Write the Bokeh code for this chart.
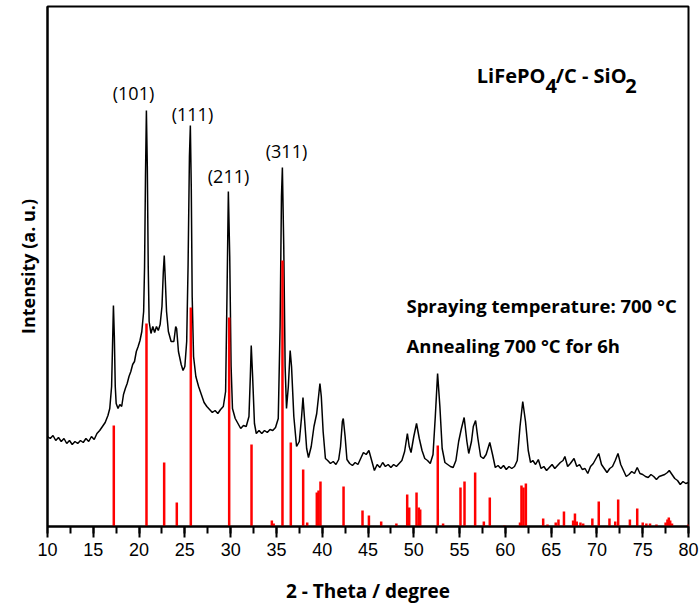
from bokeh.plotting import figure
from bokeh.models import Range1d, SingleIntervalTicker, FixedTicker
from bokeh.core.properties import value
from bokeh.embed import file_html
from bokeh.resources import INLINE

# measured XRD pattern (2-theta, intensity a.u.)
theta = [10.0, 10.3, 10.6, 10.9, 11.2, 11.5, 11.8, 12.1, 12.4, 12.7, 13.0, 13.3, 13.6, 13.9,
         14.2, 14.5, 14.8, 15.1, 15.4, 15.7, 16.0, 16.3, 16.6, 16.8, 17.0, 17.1, 17.2, 17.3,
         17.4, 17.5, 17.7, 17.9, 18.1, 18.3, 18.5, 18.7, 18.9, 19.1, 19.3, 19.5, 19.7, 19.9,
         20.1, 20.3, 20.5, 20.6, 20.7, 20.8, 20.9, 21.0, 21.1, 21.3, 21.5, 21.7, 21.9, 22.1,
         22.3, 22.5, 22.65, 22.75, 22.85, 23.0, 23.2, 23.5, 23.8, 24.0, 24.1, 24.3, 24.6, 24.8,
         25.0, 25.2, 25.35, 25.5, 25.6, 25.7, 25.8, 25.95, 26.2, 26.5, 26.8, 27.1, 27.4, 27.7,
         28.0, 28.3, 28.6, 28.9, 29.2, 29.45, 29.6, 29.75, 29.9, 30.05, 30.2, 30.5, 30.8, 31.1,
         31.4, 31.7, 32.0, 32.15, 32.25, 32.4, 32.6, 32.8, 33.1, 33.4, 33.7, 34.0, 34.3, 34.6,
         34.9, 35.2, 35.4, 35.55, 35.65, 35.8, 35.95, 36.1, 36.3, 36.5, 36.65, 36.9, 37.2, 37.5,
         37.75, 37.9, 38.05, 38.3, 38.5, 38.8, 39.1, 39.4, 39.6, 39.75, 39.9, 40.1, 40.35, 40.6,
         40.9, 41.2, 41.5, 41.8, 42.0, 42.2, 42.3, 42.5, 42.7, 43.0, 43.3, 43.6, 43.9, 44.2,
         44.5, 44.8, 45.1, 45.4, 45.7, 46.0, 46.3, 46.6, 46.9, 47.2, 47.5, 47.8, 48.1, 48.4,
         48.7, 49.0, 49.3, 49.5, 49.7, 50.0, 50.3, 50.6, 50.9, 51.2, 51.5, 51.8, 52.1, 52.35,
         52.6, 52.85, 53.1, 53.4, 53.7, 54.0, 54.3, 54.6, 54.9, 55.2, 55.5, 55.8, 56.0, 56.3,
         56.5, 56.75, 57.0, 57.3, 57.6, 57.9, 58.3, 58.6, 58.9, 59.2, 59.5, 59.8, 60.1, 60.4,
         60.7, 61.0, 61.3, 61.6, 61.9, 62.2, 62.5, 62.75, 63.0, 63.3, 63.6, 63.9, 64.2, 64.5,
         64.8, 65.1, 65.4, 65.7, 66.0, 66.3, 66.5, 66.8, 67.1, 67.5, 67.8, 68.1, 68.4, 68.7,
         69.0, 69.3, 69.6, 69.9, 70.2, 70.5, 70.8, 71.1, 71.4, 71.7, 72.0, 72.3, 72.6, 72.9,
         73.2, 73.5, 73.8, 74.1, 74.4, 74.7, 75.0, 75.3, 75.6, 75.9, 76.2, 76.5, 76.8, 77.1,
         77.4, 77.7, 77.9, 78.2, 78.5, 78.8, 79.1, 79.4, 79.7, 80.0]
intensity = [90, 88, 91, 86, 89, 85, 88, 83, 86, 82, 85, 83, 86, 84,
             88, 85, 90, 87, 93, 96, 100, 104, 111, 118, 140, 180, 221, 190,
             140, 123, 118, 122, 120, 132, 138, 143, 150, 155, 162, 165, 175, 180,
             186, 195, 215, 260, 350, 416, 360, 260, 205, 193, 200, 194, 200, 196,
             202, 220, 255, 271, 250, 215, 195, 185, 185, 200, 198, 175, 162, 156,
             160, 185, 260, 370, 401, 340, 230, 170, 150, 140, 132, 124, 120, 117,
             114, 116, 113, 117, 120, 135, 230, 335, 270, 160, 118, 108, 103, 98,
             101, 100, 110, 150, 181, 150, 103, 93, 96, 93, 96, 94, 97, 96,
             99, 108, 200, 330, 359, 280, 160, 118, 140, 176, 160, 110, 80, 85,
             110, 129, 110, 78, 69, 80, 100, 113, 130, 143, 130, 95, 68, 66,
             63, 65, 62, 67, 80, 105, 108, 90, 67, 63, 61, 64, 62, 68,
             74, 72, 76, 66, 56, 62, 59, 64, 60, 62, 59, 62, 60, 63,
             66, 75, 93, 80, 74, 90, 103, 88, 76, 68, 66, 63, 72, 110,
             153, 120, 78, 64, 62, 60, 59, 66, 85, 98, 109, 85, 73, 85,
             100, 106, 88, 70, 68, 72, 84, 72, 59, 61, 58, 61, 57, 60,
             58, 60, 66, 100, 125, 105, 76, 64, 66, 62, 67, 58, 60, 56,
             59, 62, 58, 61, 64, 66, 70, 60, 63, 68, 60, 62, 57, 58,
             53, 60, 63, 68, 73, 62, 58, 54, 58, 60, 66, 73, 62, 56,
             50, 52, 55, 53, 59, 53, 52, 50, 49, 52, 50, 47, 50, 51,
             52, 54, 56, 52, 48, 46, 42, 45, 43, 44]

# reference pattern sticks (2-theta, relative intensity)
ref_theta = [17.24, 20.81, 22.74, 24.12, 25.65, 29.84, 32.28, 34.5, 34.7, 35.66, 36.57, 37.92,
             38.36, 39.41, 39.6, 39.81, 42.33, 44.4, 45.1, 46.44, 48.1, 49.28, 49.5, 50.3,
             50.55, 50.7, 52.62, 53.2, 55.1, 55.54, 56.7, 57.65, 58.3, 59.9, 61.6, 61.76,
             61.98, 62.24, 64.13, 64.6, 65.5, 65.8, 66.4, 67.4, 67.6, 67.8, 68.2, 68.5,
             69.5, 70.2, 71.37, 72.0, 72.32, 73.6, 74.4, 75.0, 75.4, 75.8, 76.5, 77.5,
             77.7, 77.85, 78.0, 78.2, 80.0]
ref_int = [101, 203, 64, 24, 219, 209, 82, 6, 3, 266, 84, 57,
           4, 34, 36, 45, 40, 16, 11, 5, 3, 32, 19, 34,
           19, 17, 81, 3, 39, 45, 54, 5, 29, 1, 4, 41,
           39, 43, 8, 2, 4, 7, 15, 6, 13, 5, 4, 3,
           8, 25, 8, 5, 27, 7, 18, 4, 3, 3, 2, 4,
           7, 9, 6, 3, 2]

peak_labels = ["(101)", "(111)", "(211)", "(311)"]
peak_label_x = [19.39, 25.83, 29.77, 36.1]
peak_label_y = [434, 413, 351, 376]

x_ticks_interval = 5

p = figure(width=699, height=609, output_backend="svg", toolbar_location=None,
           x_range=Range1d(10, 80), y_range=Range1d(0, 520),
           min_border_left=47, min_border_right=11, min_border_top=6, min_border_bottom=83)
p.background_fill_color = "white"
p.border_fill_color = "white"
p.outline_line_color = "black"
p.outline_line_width = 2
p.xgrid.visible = False
p.ygrid.visible = False

p.line(theta, intensity, line_color="black", line_width=1.5)
p.segment(x0=ref_theta, y0=[0] * len(ref_theta), x1=ref_theta, y1=ref_int,
          line_color="#ff0000", line_width=2.5)

p.text(x=peak_label_x, y=peak_label_y, text=peak_labels, text_font=value("Open Sans"),
       text_font_size="18px", text_align="center", text_baseline="middle", text_color="black")

# compound label with subscripts
p.text(x=[64.38], y=[451], text=["LiFePO"], text_font=value("Open Sans"), text_font_style="bold",
       text_font_size="20px", text_align="right", text_baseline="alphabetic", text_color="black")
p.text(x=[64.38, 73.1], y=[441, 441], text=["4", "2"], text_font=value("Open Sans"),
       text_font_style="bold", text_font_size="20px", text_align="left",
       text_baseline="alphabetic", text_color="black")
p.text(x=[65.5], y=[451], text=["/C - SiO"], text_font=value("Open Sans"), text_font_style="bold",
       text_font_size="20px", text_align="left", text_baseline="alphabetic", text_color="black")

p.text(x=[49.2, 49.2], y=[221, 181],
       text=["Spraying temperature: 700 \u00b0C", "Annealing 700 \u00b0C for 6h"],
       text_font=value("Open Sans"), text_font_style="bold", text_font_size="18.5px",
       text_align="left", text_baseline="middle", text_color="black")

xa = p.xaxis[0]
xa.ticker = SingleIntervalTicker(interval=x_ticks_interval, num_minor_ticks=2)
xa.axis_line_width = 2
xa.axis_line_color = "black"
xa.major_tick_line_width = 2
xa.minor_tick_line_width = 2
xa.major_tick_line_color = "black"
xa.minor_tick_line_color = "black"
xa.major_tick_out = 11
xa.major_tick_in = 0
xa.minor_tick_out = 7
xa.minor_tick_in = 0
xa.major_label_standoff = 5
xa.major_label_text_font = "Liberation Sans"
xa.major_label_text_font_size = "18px"
xa.major_label_text_color = "black"
xa.axis_label = "2 - Theta / degree"
xa.axis_label_text_font = "Open Sans"
xa.axis_label_text_font_style = "bold"
xa.axis_label_text_font_size = "19px"
xa.axis_label_text_color = "black"
xa.axis_label_standoff = 19

ya = p.yaxis[0]
ya.ticker = FixedTicker(ticks=[])
ya.axis_line_width = 2
ya.axis_line_color = "black"
ya.major_tick_line_color = None
ya.minor_tick_line_color = None
ya.major_tick_out = 0
ya.major_tick_in = 0
ya.minor_tick_out = 0
ya.minor_tick_in = 0
ya.major_label_standoff = 0
ya.axis_label = "Intensity (a. u.)"
ya.axis_label_text_font = "Open Sans"
ya.axis_label_text_font_style = "bold"
ya.axis_label_text_font_size = "18px"
ya.axis_label_text_color = "black"
ya.axis_label_standoff = 8

open("out.html", "w").write(file_html(p, INLINE))
